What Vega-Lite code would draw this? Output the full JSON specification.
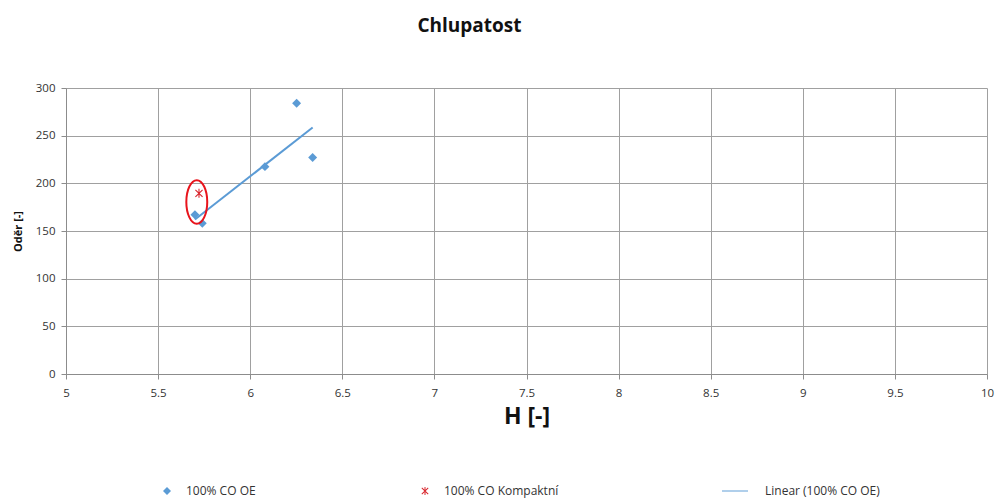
{
  "$schema": "https://vega.github.io/schema/vega-lite/v6.json",
  "autosize": {"type": "none"},
  "width": 921,
  "height": 286,
  "padding": {"left": 66, "top": 88, "right": 14, "bottom": 127},
  "background": "white",
  "title": {
    "text": "Chlupatost",
    "font": "Open Sans",
    "fontSize": 19,
    "fontWeight": "bold",
    "color": "#111111",
    "anchor": "middle",
    "dx": -57,
    "offset": 46
  },
  "config": {
    "view": {"stroke": null},
    "axis": {
      "labelFont": "Open Sans",
      "labelFontSize": 11.5,
      "labelColor": "#333333",
      "gridColor": "#a0a0a0",
      "gridWidth": 1,
      "domainColor": "#8c8c8c",
      "tickColor": "#8c8c8c",
      "tickSize": 5,
      "titleFont": "Open Sans",
      "titleFontWeight": "bold",
      "titleColor": "#111111"
    },
    "legend": {
      "labelFont": "Open Sans",
      "labelFontSize": 12,
      "labelColor": "#333333"
    }
  },
  "datasets": {
    "pts": [
      {"H": 6.252, "Oder": 284, "series": "100% CO OE"},
      {"H": 6.339, "Oder": 227, "series": "100% CO OE"},
      {"H": 6.08, "Oder": 217.5, "series": "100% CO OE"},
      {"H": 5.7, "Oder": 167, "series": "100% CO OE"},
      {"H": 5.74, "Oder": 158, "series": "100% CO OE"},
      {"H": 5.722, "Oder": 189.5, "series": "100% CO Kompaktní"}
    ],
    "mark": [
      {"H": 5.71, "Oder": 180.5}
    ]
  },
  "layer": [
    {
      "data": {"name": "pts"},
      "transform": [
        {"filter": "datum.series === '100% CO OE'"},
        {"regression": "Oder", "on": "H"}
      ],
      "mark": {"type": "line", "color": "#5B9BD5", "strokeWidth": 2},
      "encoding": {
        "x": {"field": "H", "type": "quantitative"},
        "y": {"field": "Oder", "type": "quantitative"}
      }
    },
    {
      "data": {"name": "pts"},
      "mark": {"type": "point", "filled": true, "opacity": 1, "size": 80},
      "encoding": {
        "x": {
          "field": "H",
          "type": "quantitative",
          "scale": {"domain": [5, 10], "nice": false, "zero": false},
          "axis": {
            "values": [5, 5.5, 6, 6.5, 7, 7.5, 8, 8.5, 9, 9.5, 10],
            "title": "H [-]",
            "titleFontSize": 23,
            "titlePadding": 7,
            "labelPadding": 8,
            "labelFlush": false,
            "format": "~g"
          }
        },
        "y": {
          "field": "Oder",
          "type": "quantitative",
          "scale": {"domain": [0, 300], "nice": false},
          "axis": {
            "values": [0, 50, 100, 150, 200, 250, 300],
            "title": "Oděr [-]",
            "titleFontSize": 11,
            "titlePadding": 12,
            "labelPadding": 6
          }
        },
        "color": {
          "field": "series",
          "type": "nominal",
          "scale": {
            "domain": ["100% CO OE", "100% CO Kompaktní", "Linear (100% CO OE)"],
            "range": ["#5B9BD5", "#D8232A", "#5B9BD5"]
          },
          "legend": {
            "title": null,
            "orient": "none",
            "legendX": 95,
            "legendY": 397,
            "direction": "horizontal",
            "columns": 3,
            "gridAlign": "none",
            "columnPadding": 163,
            "symbolSize": 64,
            "labelOffset": 13
          }
        },
        "shape": {
          "field": "series",
          "type": "nominal",
          "scale": {
            "domain": ["100% CO OE", "100% CO Kompaktní", "Linear (100% CO OE)"],
            "range": [
              "diamond",
              "M-0.12,-1L0.12,-1L0.12,1L-0.12,1ZM-0.885,-0.715L-0.715,-0.885L0.885,0.715L0.715,0.885ZM-0.885,0.715L0.715,-0.885L0.885,-0.715L-0.715,0.885Z",
              "M-6,-0.12L0.5,-0.12L0.5,0.12L-6,0.12Z"
            ]
          },
          "legend": null
        }
      }
    },
    {
      "data": {"name": "mark"},
      "mark": {
        "type": "point",
        "filled": false,
        "stroke": "#E8141C",
        "strokeWidth": 2,
        "opacity": 1,
        "size": 1900,
        "shape": "M0,-1A0.48,1,0,1,1,0,1A0.48,1,0,1,1,0,-1Z"
      },
      "encoding": {
        "x": {"field": "H", "type": "quantitative"},
        "y": {"field": "Oder", "type": "quantitative"}
      }
    }
  ]
}
